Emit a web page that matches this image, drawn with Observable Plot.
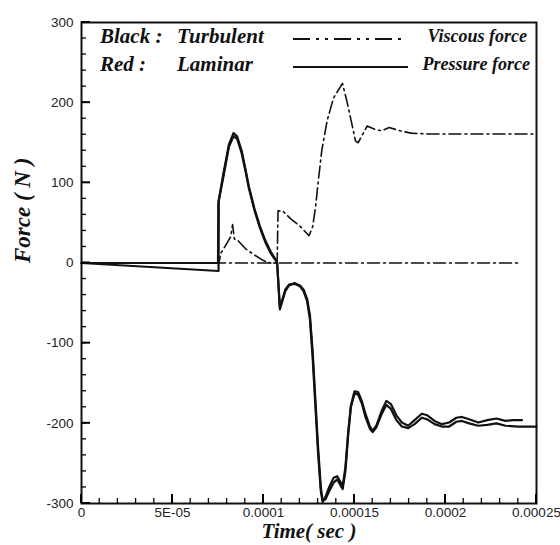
<!DOCTYPE html>
<html><head><meta charset="utf-8">
<script src="https://cdn.jsdelivr.net/npm/d3@7"></script>
<script src="https://cdn.jsdelivr.net/npm/@observablehq/plot@0.6"></script>
<style>body{margin:0;background:#fff} #chart svg{display:block}</style>
</head><body><div id="chart"></div>
<script>
// Axis ticks
const xTicks = [0, 5e-5, 1e-4, 1.5e-4, 2e-4, 2.5e-4];
const xTickLabels = ["0", "5E-05", "0.0001", "0.00015", "0.0002", "0.00025"];
const xMinorTicks = d3.range(0, 26).map(i => i * 1e-5);
const yTicks = [-300, -200, -100, 0, 100, 200, 300];
const yMinorTicks = d3.range(-15, 16).map(i => i * 20);

// Series (time in microseconds, force in N)
const pTurbT = [0,75.3,75.4,78,81,83.5,85.5,88,90,92,95,98,101,104,106.5,107.5,109,110,112,114,117,120,122,124,125.5,127,128.5,130,131.5,132.5,134,136,138.5,140.5,142,143.5,145,146.5,148,150,152,154,156,158.5,160,162,165,167.5,170,173,176,179.5,183,187,190,194,198,202,206,209,213,218,223,228,233,240,250];
const pTurbF = [0,-10,78,112,148,162,158,140,118,95,68,46,28,14,5,0,-58,-50,-35,-28,-25,-28,-33,-45,-65,-110,-170,-230,-280,-296,-295,-285,-274,-270,-276,-282,-260,-215,-180,-163,-164,-175,-192,-207,-211,-205,-188,-177,-182,-196,-204,-206,-201,-193,-195,-201,-204,-204,-198,-197,-200,-203,-202,-200,-203,-204,-204];

const pLamT = [0,75,75.2,78,81,83.5,85.5,88,90,92,95,98,101,104,106.5,107.5,109,110,112,114,117,120,122,124,125.5,127,128.5,130,131.5,132.5,134,136,138.5,140.5,142,143.5,145,146.5,148,150,152,154,156,158.5,160,162,165,167.5,170,173,176,179.5,183,187,190,194,198,202,206,209,213,218,223,228,233,237,242];
const pLamF = [0,0,75,108,145,158,155,137,116,93,66,44,26,12,4,0,-55,-48,-33,-27,-26,-29,-35,-48,-70,-118,-178,-238,-285,-298,-292,-280,-268,-266,-272,-278,-255,-212,-178,-160,-161,-172,-188,-204,-209,-203,-184,-172,-176,-190,-199,-203,-196,-188,-190,-197,-201,-199,-193,-192,-195,-199,-196,-194,-197,-196,-196];

const vTurbT = [0,75.5,76.5,80,82,83,84,86,90,95,100,104,107.5,108,110.5,115,120,125,127,128.6,130,132,135,138.5,143.4,146,150.6,152,157,162,165,169,175,181,190,250];
const vTurbF = [0,0,12,25,33,48,30,28,18,10,3,0,0,65,65,55,46,34,45,70,100,140,178,206,224,200,152,150,171,166,165,169,165,162,161,161];

const vLamT = [0, 240];
const vLamF = [0, 0];

const toRows = (T, F, s) => T.map((t, i) => ({x: t * 1e-6, y: F[i], s}));
const rows = [
  ...toRows(pTurbT, pTurbF, "Turbulent pressure"),
  ...toRows(pLamT, pLamF, "Laminar pressure")
];
const vrows = [
  ...toRows(vTurbT, vTurbF, "Turbulent viscous"),
  ...toRows(vLamT, vLamF, "Laminar viscous")
];

const W = 560, H = 545, ML = 81, MR = 24, MT = 22, MB = 42;
const serif = "'Liberation Serif', 'Times New Roman', serif";
const chart = Plot.plot({
  width: W, height: H,
  marginLeft: ML, marginRight: MR, marginTop: MT, marginBottom: MB,
  style: {fontFamily: "'Liberation Sans', Arial, sans-serif", fontSize: "13.5px", color: "#222", background: "#fff"},
  x: {domain: [0, 2.5e-4], label: null},
  y: {domain: [-300, 300], label: null},
  marks: [
    Plot.axisX(xTicks, {tickSize: 0, tickPadding: 4, label: null, fontSize: 13.5,
      tickFormat: d => xTickLabels[xTicks.indexOf(d)]}),
    Plot.axisY(yTicks, {tickSize: 0, tickPadding: 8, label: null, fontSize: 13.5,
      tickFormat: d => String(d)}),
    Plot.line(vrows, {x: "x", y: "y", z: "s", stroke: "#111", strokeWidth: 1.6, strokeDasharray: "12,4,2,4"}),
    Plot.line(rows, {x: "x", y: "y", z: "s", stroke: "#111", strokeWidth: 2.2}),
    Plot.frame({stroke: "#111", strokeWidth: 2}),
    Plot.text(["Time( sec )"], {frameAnchor: "bottom", dy: 34, fontFamily: serif,
      fontSize: 21, fontWeight: "bold", fontStyle: "italic", fill: "#111"}),
    Plot.text(["Force ( N )"], {frameAnchor: "left", dx: -59, rotate: -90, fontFamily: serif,
      fontSize: 23, fontWeight: "bold", fontStyle: "italic", fill: "#111"})
  ]
});
document.getElementById("chart").append(chart);

const svg = d3.select(chart);
// Inward tick marks placed with the plot's own scales
const sxo = chart.scale("x"), syo = chart.scale("y");
const fx = (sxo && sxo.apply) ? (v => sxo.apply(v)) : d3.scaleLinear(sxo.domain, sxo.range);
const fy = (syo && syo.apply) ? (v => syo.apply(v)) : d3.scaleLinear(syo.domain, syo.range);
const yB = H - MB, xL = ML;
const tg = svg.append("g");
function tick(x1, y1, x2, y2, w) {
  tg.append("line").attr("x1", x1).attr("y1", y1).attr("x2", x2).attr("y2", y2)
    .attr("stroke", "#000").attr("stroke-width", w);
}
xMinorTicks.forEach(d => tick(fx(d), yB, fx(d), yB - 5, 1.3));
xTicks.forEach(d => tick(fx(d), yB, fx(d), yB - 9, 2));
yMinorTicks.forEach(d => tick(xL, fy(d), xL + 5, fy(d), 1.3));
yTicks.forEach(d => tick(xL, fy(d), xL + 9, fy(d), 2));

// Legend inside the plot area
const g = svg.append("g").attr("font-family", serif)
  .attr("font-style", "italic").attr("font-weight", "bold").attr("fill", "#111")
  .attr("text-anchor", "start");
g.append("text").attr("x", 100).attr("y", 43).attr("font-size", 21).text("Black :");
g.append("text").attr("x", 177).attr("y", 43).attr("font-size", 21).text("Turbulent");
g.append("text").attr("x", 100).attr("y", 71).attr("font-size", 21).text("Red :");
g.append("text").attr("x", 177).attr("y", 71).attr("font-size", 21).text("Laminar");
g.append("line").attr("x1", 293).attr("x2", 405).attr("y1", 39).attr("y2", 39)
  .attr("stroke", "#111").attr("stroke-width", 2).attr("stroke-dasharray", "17,6,3,6,3,6");
g.append("line").attr("x1", 293).attr("x2", 408).attr("y1", 67).attr("y2", 67)
  .attr("stroke", "#111").attr("stroke-width", 2);
g.append("text").attr("x", 527).attr("y", 42).attr("text-anchor", "end").attr("font-size", 18).text("Viscous force");
g.append("text").attr("x", 530).attr("y", 70).attr("text-anchor", "end").attr("font-size", 18).text("Pressure force");
</script>
</body></html>
